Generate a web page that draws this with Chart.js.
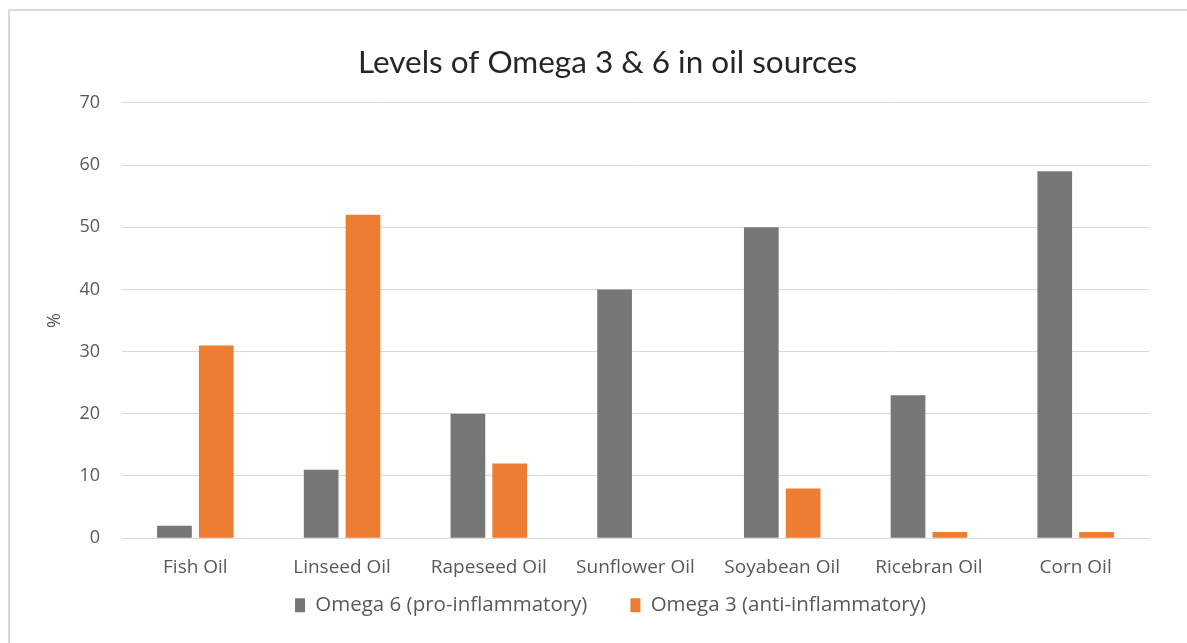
<!DOCTYPE html>
<html>
<head>
<meta charset="utf-8">
<script src="https://cdn.jsdelivr.net/npm/chart.js@4/dist/chart.umd.min.js"></script>
<style>
    body { margin: 0; background: #fff; overflow: hidden; }
    #frame { position: absolute; left: 8px; top: 9px; width: 1200px; height: 660px; border: 2px solid #d9d9d9; }
    #wrap { position: absolute; left: 0; top: 0; width: 1187px; height: 643px; }
</style>
</head>
<body>
<div id="frame"></div>
<div id="wrap"><canvas id="chart" width="1187" height="643"></canvas></div>
<script>
// values
const oils = ['Fish Oil', 'Linseed Oil', 'Rapeseed Oil', 'Sunflower Oil', 'Soyabean Oil', 'Ricebran Oil', 'Corn Oil'];
const omega6 = [2, 11, 20, 40, 50, 23, 59];
const omega3 = [31, 52, 12, 0, 8, 1, 1];
const yTicks = [0, 10, 20, 30, 40, 50, 60, 70];

const font = "'Open Sans', Lato, sans-serif";
const textGray = '#595959';

// legend padding also sets the gap between items, so the legend is kept short for layout
// and then moved/resized after layout (it clips to its own box); title nudged right a bit
const nudge = {
    id: 'nudge',
    afterLayout(chart) {
        const lg = chart.legend;
        lg.top = 552;
        lg.height = 78;
        lg.bottom = lg.top + lg.height;
        lg.left += 32;
        lg.width = lg.right - lg.left;
        chart.titleBlock.left += 26;
    }
};

new Chart(document.getElementById('chart'), {
    type: 'bar',
    data: {
        labels: oils,
        datasets: [
            { label: 'Omega 6 (pro-inflammatory)', data: omega6, backgroundColor: '#777777' },
            { label: 'Omega 3 (anti-inflammatory)', data: omega3, backgroundColor: '#ed7d31' },
        ]
    },
    plugins: [nudge],
    options: {
        responsive: false,
        animation: false,
        devicePixelRatio: 1,
        datasets: { bar: { categoryPercentage: 0.57, barPercentage: 0.83 } },
        layout: { padding: { left: 40, right: 38, top: 0, bottom: 10 } },
        plugins: {
            title: {
                display: true,
                text: 'Levels of Omega 3 & 6 in oil sources',
                color: '#262626',
                font: { family: 'Lato, ' + font, size: 31.5, weight: 'normal' },
                padding: { top: 44, bottom: 21 }
            },
            legend: {
                position: 'bottom',
                maxHeight: 36,
                labels: {
                    color: textGray,
                    font: { family: font, size: 20.5 },
                    boxWidth: 10,
                    boxHeight: 14,
                    padding: 43
                }
            },
            tooltip: { enabled: false }
        },
        scales: {
            x: {
                grid: { display: false, drawTicks: false },
                border: { color: '#d9d9d9', width: 1 },
                ticks: { color: textGray, font: { family: font, size: 19 }, padding: 18 }
            },
            y: {
                min: 0,
                max: 70,
                afterBuildTicks: (scale) => { scale.ticks = yTicks.map(v => ({ value: v })); },
                afterFit: (scale) => { scale.width = 82; },
                grid: { color: '#d9d9d9', drawTicks: false },
                border: { display: false },
                ticks: { color: textGray, font: { family: font, size: 18 }, padding: 22 },
                title: { display: true, text: '%', color: textGray, font: { family: font, size: 18 } }
            }
        }
    }
});
</script>
</body>
</html>
